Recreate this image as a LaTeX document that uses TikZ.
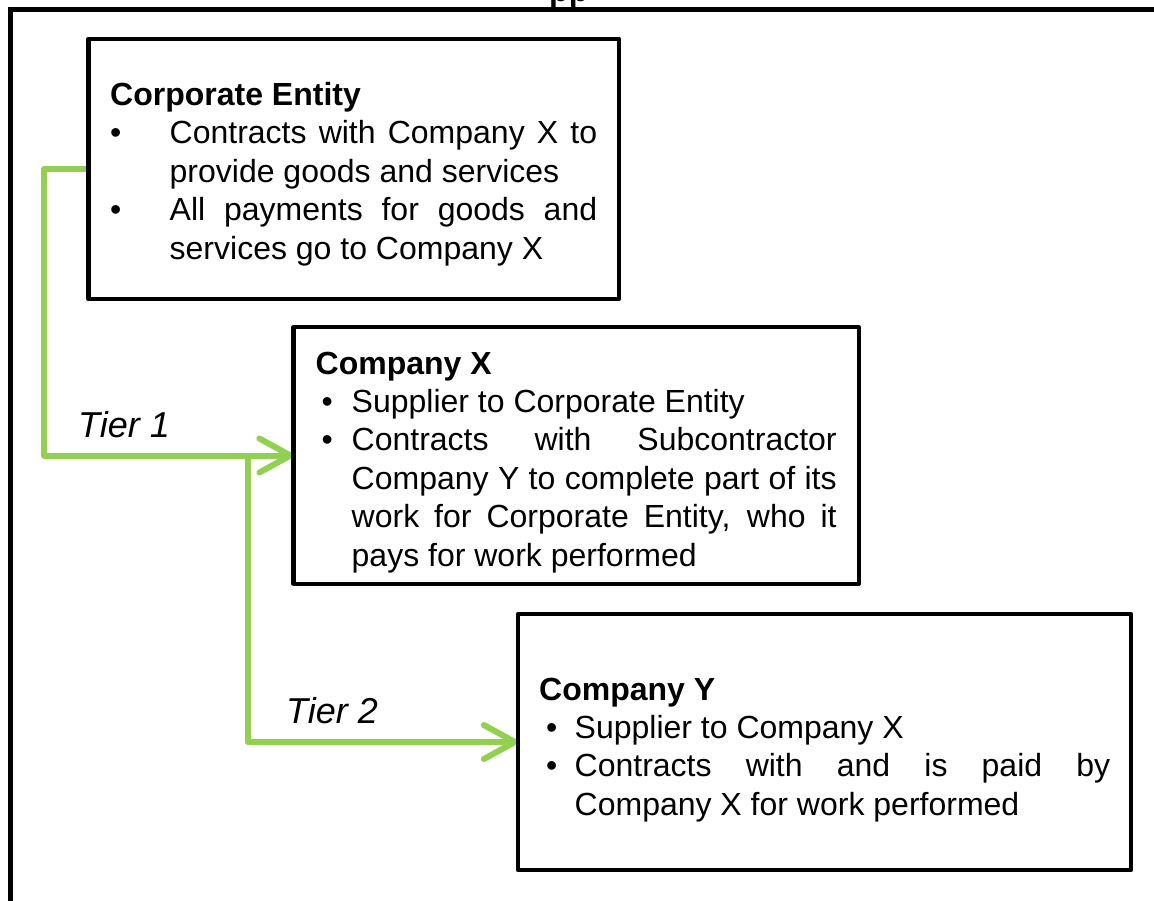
\documentclass[tikz,border=0pt]{standalone}
\usepackage{fontspec}
\setmainfont{Liberation Sans}
\usetikzlibrary{arrows.meta}
\definecolor{tiergreen}{RGB}{146,208,80}
\tolerance=10000
\hbadness=10000
\hyphenpenalty=10000
\exhyphenpenalty=10000
\newcommand\bitem[3]{\par\hangindent=#2\relax\hangafter=1\relax\noindent\makebox[#2][l]{\hspace*{#1}\textbullet}#3\par}
\begin{document}
\begin{tikzpicture}[x=1pt,y=-1pt,
  box/.style={draw, line width=4.2pt, rectangle, inner sep=0pt, line join=round},
  boxline/.style={line width=4.2pt, line join=round},
  boxtext/.style={anchor=base west, inner sep=0pt, align=justify, font=\fontsize{32}{38.4}\selectfont},
  tier/.style={draw=tiergreen, line width=6pt, line join=round, -{Straight Barb[length=31pt,width=34pt,round]}},
  tierlabel/.style={anchor=base west, inner sep=0pt, font=\fontsize{36}{43}\selectfont\itshape},
  frame/.style={draw, line width=5pt}]
\useasboundingbox (0,0) rectangle (1154,901);

% partly visible title
\begin{scope}
\clip (0,0) rectangle (1154,10);
\node[anchor=base west, inner sep=0pt, font=\fontsize{32}{38.4}\selectfont\bfseries] (title) at (549,1.5) {pp};
\end{scope}

% outer frame
\coordinate (fbl) at (10,915);
\coordinate (ftl) at (10,10);
\coordinate (ftr) at (1170,10);
\draw[frame] (fbl) -- (ftl) -- (ftr);

% connectors
\coordinate (bendA) at (44,169);
\coordinate (bendB) at (248,0);
\node[box, draw=none, minimum width=526.5pt, minimum height=256pt] (ce) at (353.75,169) {};
\node[box, draw=none, minimum width=561pt, minimum height=252pt] (cx) at (576,455.5) {};
\node[box, draw=none, minimum width=609pt, minimum height=252pt] (cy) at (824.5,742) {};
\coordinate (junc) at (cx.west -| bendB);
\draw[tier] (ce.west) -- (ce.west -| bendA) |- (cx.west);
\draw[tier] (junc) |- (cy.west);

% boxes
\draw[boxline] (ce.north west) rectangle (ce.south east);
\draw[boxline] (cx.north west) rectangle (cx.south east);
\draw[boxline] (cy.north west) rectangle (cy.south east);

% texts
\node[boxtext, text width=487pt] (cet) at (110,105.5) {{\bfseries Corporate Entity}\par
\bitem{0pt}{59.5pt}{Contracts with Company X to\linebreak provide goods and services}
\bitem{0pt}{59.5pt}{All payments for goods and\linebreak services go to Company X}};

\node[boxtext, text width=521pt] (cxt) at (315.5,374) {{\bfseries Company X}\par
\bitem{6pt}{36pt}{Supplier to Corporate Entity}
\bitem{6pt}{36pt}{Contracts with Subcontractor\linebreak Company Y to complete part of its\linebreak work for Corporate Entity, who it\linebreak pays for work performed}};

\node[boxtext, text width=571pt] (cyt) at (539,700) {{\bfseries Company Y}\par
\bitem{7pt}{35.5pt}{Supplier to Company X}
\bitem{7pt}{35.5pt}{Contracts with and is paid by\linebreak Company X for work performed}};

\node[tierlabel] (t1) at (78,437) {Tier 1};
\node[tierlabel] (t2) at (286,723) {Tier 2};
\end{tikzpicture}
\end{document}
